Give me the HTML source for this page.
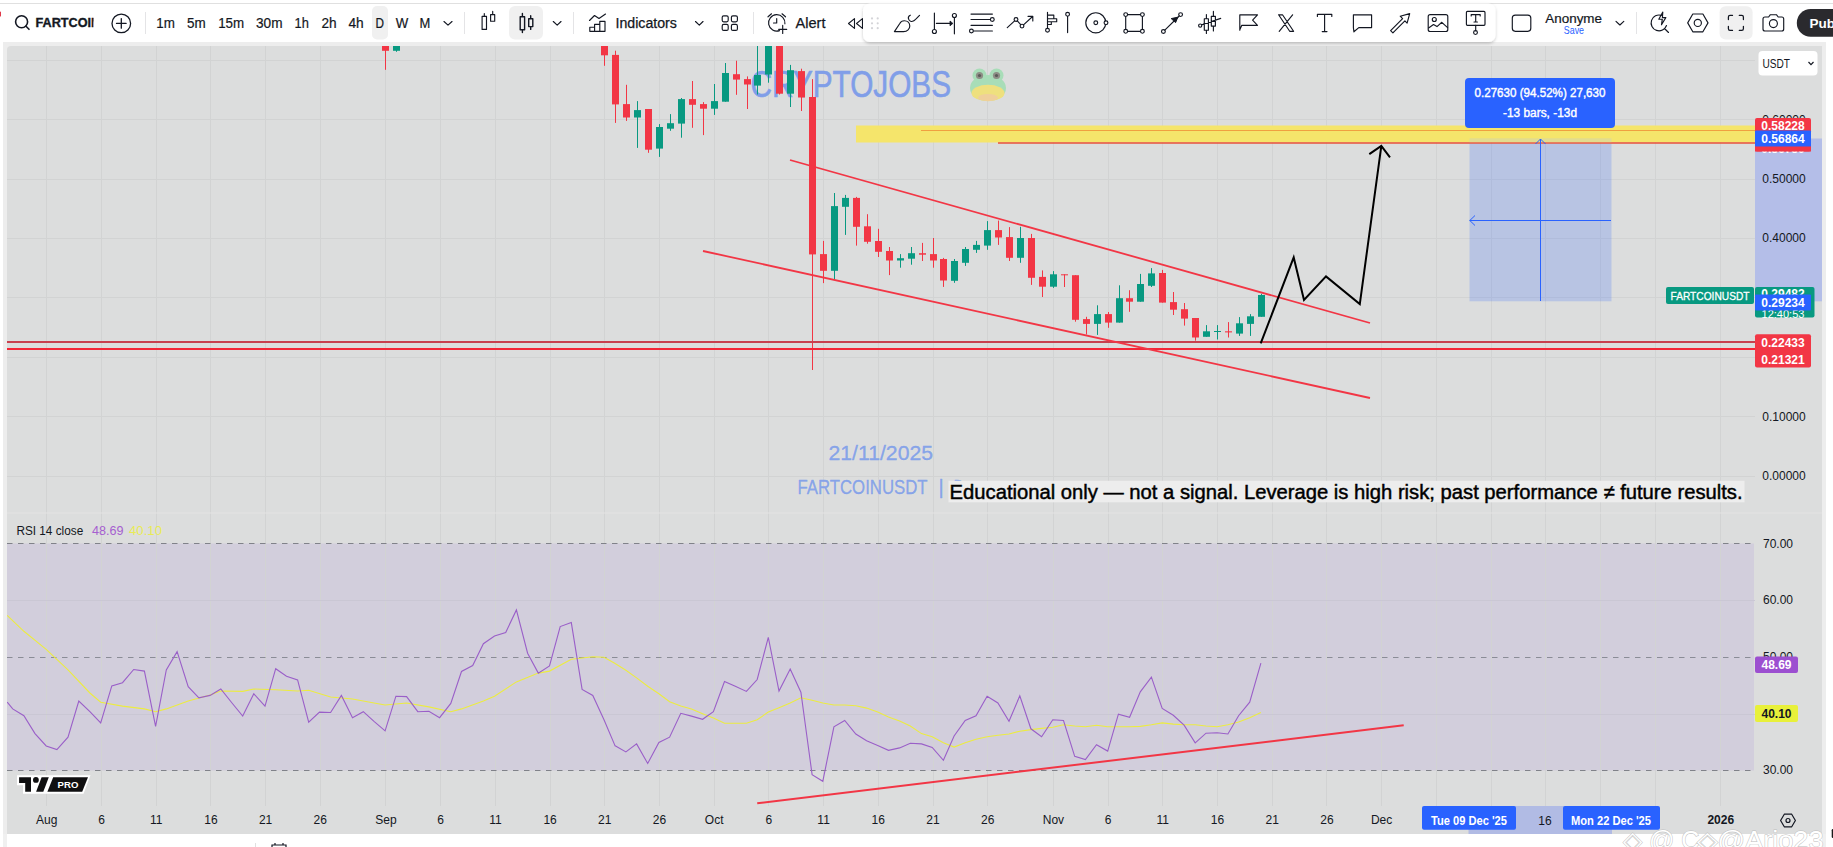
<!DOCTYPE html>
<html lang="en">
<head>
<meta charset="utf-8">
<title>FARTCOINUSDT chart</title>
<style>
html,body{margin:0;padding:0;background:#fff;}
body{width:1833px;height:847px;overflow:hidden;position:relative;font-family:"Liberation Sans",Arial,sans-serif;}
svg{position:absolute;left:0;top:0;display:block;}
svg text{font-family:"Liberation Sans",Arial,sans-serif;}
.ic{fill:none;stroke:#131722;stroke-width:1.15;stroke-linecap:round;stroke-linejoin:round;}
</style>
</head>
<body>
<svg width="1833" height="847" viewBox="0 0 1833 847">
<defs>
<clipPath id="chartclip"><path d="M7 50a4 4 0 0 1 4-4H1822V834H7Z"/></clipPath>
<clipPath id="symclip"><rect x="30" y="10" width="63.5" height="28"/></clipPath>
<filter id="sh" x="-5%" y="-30%" width="110%" height="180%"><feDropShadow dx="0" dy="1.5" stdDeviation="1.8" flood-color="#000" flood-opacity="0.22"/></filter>
</defs>

<!-- page frame -->
<rect x="0" y="3" width="1833" height="1" fill="#E0E0E0"/>
<rect x="3" y="42" width="1823" height="792" fill="#EDEDED"/>
<rect x="3" y="834" width="4" height="13" fill="#F0F0F0"/><rect x="1822" y="834" width="4" height="13" fill="#F0F0F0"/>
<rect x="1831.7" y="829" width="3" height="9" rx="1.2" fill="#1a1a1a"/>
<rect x="0" y="42" width="3" height="805" fill="#fff"/>
<path d="M7 50a4 4 0 0 1 4-4H1822V834H7Z" fill="#DCDDDD"/>

<g clip-path="url(#chartclip)">
<!-- RSI band -->
<rect x="7" y="543.5" width="1747" height="227" fill="#D2CEDC"/>
<!-- grid -->
<line x1="46.5" y1="46" x2="46.5" y2="806" stroke="#D2D3D3" stroke-width="1"/>
<line x1="101.5" y1="46" x2="101.5" y2="806" stroke="#D2D3D3" stroke-width="1"/>
<line x1="156.5" y1="46" x2="156.5" y2="806" stroke="#D2D3D3" stroke-width="1"/>
<line x1="210.5" y1="46" x2="210.5" y2="806" stroke="#D2D3D3" stroke-width="1"/>
<line x1="265.5" y1="46" x2="265.5" y2="806" stroke="#D2D3D3" stroke-width="1"/>
<line x1="320.5" y1="46" x2="320.5" y2="806" stroke="#D2D3D3" stroke-width="1"/>
<line x1="385.5" y1="46" x2="385.5" y2="806" stroke="#D2D3D3" stroke-width="1"/>
<line x1="440.5" y1="46" x2="440.5" y2="806" stroke="#D2D3D3" stroke-width="1"/>
<line x1="495.5" y1="46" x2="495.5" y2="806" stroke="#D2D3D3" stroke-width="1"/>
<line x1="550.5" y1="46" x2="550.5" y2="806" stroke="#D2D3D3" stroke-width="1"/>
<line x1="604.5" y1="46" x2="604.5" y2="806" stroke="#D2D3D3" stroke-width="1"/>
<line x1="659.5" y1="46" x2="659.5" y2="806" stroke="#D2D3D3" stroke-width="1"/>
<line x1="714.5" y1="46" x2="714.5" y2="806" stroke="#D2D3D3" stroke-width="1"/>
<line x1="768.5" y1="46" x2="768.5" y2="806" stroke="#D2D3D3" stroke-width="1"/>
<line x1="823.5" y1="46" x2="823.5" y2="806" stroke="#D2D3D3" stroke-width="1"/>
<line x1="878.5" y1="46" x2="878.5" y2="806" stroke="#D2D3D3" stroke-width="1"/>
<line x1="933.5" y1="46" x2="933.5" y2="806" stroke="#D2D3D3" stroke-width="1"/>
<line x1="987.5" y1="46" x2="987.5" y2="806" stroke="#D2D3D3" stroke-width="1"/>
<line x1="1053.5" y1="46" x2="1053.5" y2="806" stroke="#D2D3D3" stroke-width="1"/>
<line x1="1108.5" y1="46" x2="1108.5" y2="806" stroke="#D2D3D3" stroke-width="1"/>
<line x1="1162.5" y1="46" x2="1162.5" y2="806" stroke="#D2D3D3" stroke-width="1"/>
<line x1="1217.5" y1="46" x2="1217.5" y2="806" stroke="#D2D3D3" stroke-width="1"/>
<line x1="1272.5" y1="46" x2="1272.5" y2="806" stroke="#D2D3D3" stroke-width="1"/>
<line x1="1326.5" y1="46" x2="1326.5" y2="806" stroke="#D2D3D3" stroke-width="1"/>
<line x1="1381.5" y1="46" x2="1381.5" y2="806" stroke="#D2D3D3" stroke-width="1"/>
<line x1="1436.5" y1="46" x2="1436.5" y2="806" stroke="#D2D3D3" stroke-width="1"/>
<line x1="1491.5" y1="46" x2="1491.5" y2="806" stroke="#D2D3D3" stroke-width="1"/>
<line x1="1545.5" y1="46" x2="1545.5" y2="806" stroke="#D2D3D3" stroke-width="1"/>
<line x1="1600.5" y1="46" x2="1600.5" y2="806" stroke="#D2D3D3" stroke-width="1"/>
<line x1="1655.5" y1="46" x2="1655.5" y2="806" stroke="#D2D3D3" stroke-width="1"/>
<line x1="1720.5" y1="46" x2="1720.5" y2="806" stroke="#D2D3D3" stroke-width="1"/>
<line x1="7" y1="60.5" x2="1755" y2="60.5" stroke="#D2D3D3" stroke-width="1"/>
<line x1="7" y1="119.5" x2="1755" y2="119.5" stroke="#D2D3D3" stroke-width="1"/>
<line x1="7" y1="179.5" x2="1755" y2="179.5" stroke="#D2D3D3" stroke-width="1"/>
<line x1="7" y1="238.5" x2="1755" y2="238.5" stroke="#D2D3D3" stroke-width="1"/>
<line x1="7" y1="297.5" x2="1755" y2="297.5" stroke="#D2D3D3" stroke-width="1"/>
<line x1="7" y1="357.5" x2="1755" y2="357.5" stroke="#D2D3D3" stroke-width="1"/>
<line x1="7" y1="416.5" x2="1755" y2="416.5" stroke="#D2D3D3" stroke-width="1"/>
<line x1="7" y1="476.5" x2="1755" y2="476.5" stroke="#D2D3D3" stroke-width="1"/>
<line x1="7" y1="600.5" x2="1755" y2="600.5" stroke="#CAC7D4" stroke-width="1"/>
<line x1="7" y1="714.5" x2="1755" y2="714.5" stroke="#CAC7D4" stroke-width="1"/>
<!-- pane separator -->
<rect x="7" y="512.5" width="1815" height="1" fill="#E3E3E3"/>

<!-- yellow zone -->
<rect x="856" y="125.5" width="899" height="17" fill="#F5E56B"/>
<line x1="921" y1="130.5" x2="1755" y2="130.5" stroke="#F0A040" stroke-width="1"/>
<line x1="998" y1="143" x2="1755" y2="143" stroke="#E8503A" stroke-width="1.6"/>

<!-- watermark texts -->
<text x="750.5" y="97.4" font-size="36" fill="#809EE8" stroke="#809EE8" stroke-width="0.6" textLength="200.5" lengthAdjust="spacingAndGlyphs">CRYPTOJOBS</text>
<g id="frog">
<ellipse cx="988" cy="88" rx="18" ry="13" fill="#A8DDB8"/>
<circle cx="979.5" cy="75.5" r="7" fill="#A8DDB8"/><circle cx="996.5" cy="75.5" r="7" fill="#A8DDB8"/>
<circle cx="979.5" cy="75.5" r="3.6" fill="#8E8E86"/><circle cx="996.5" cy="75.5" r="3.6" fill="#8E8E86"/>
<circle cx="979.5" cy="75.5" r="1.6" fill="#5A5A58"/><circle cx="996.5" cy="75.5" r="1.6" fill="#5A5A58"/>
<ellipse cx="988" cy="93" rx="16.5" ry="8.3" fill="#EEE07E"/>
<ellipse cx="988" cy="97.5" rx="10" ry="3.6" fill="#F0C8A8" fill-opacity="0.7"/>
</g>
<!-- candles -->
<rect x="385" y="46.0" width="1" height="23.8" fill="#F23645"/>
<rect x="382" y="46.0" width="7" height="4.8" fill="#F23645"/>
<rect x="396" y="46.0" width="1" height="5.8" fill="#089981"/>
<rect x="393" y="46.0" width="7" height="4.8" fill="#089981"/>
<rect x="604" y="46.0" width="1" height="19.8" fill="#F23645"/>
<rect x="601" y="46.0" width="7" height="9.3" fill="#F23645"/>
<rect x="615" y="50.7" width="1" height="72.2" fill="#F23645"/>
<rect x="612" y="54.9" width="7" height="49.5" fill="#F23645"/>
<rect x="626" y="84.8" width="1" height="36.1" fill="#F23645"/>
<rect x="623" y="104.1" width="7" height="13.4" fill="#F23645"/>
<rect x="637" y="101.1" width="1" height="46.8" fill="#089981"/>
<rect x="634" y="110.1" width="7" height="7.4" fill="#089981"/>
<rect x="648" y="109.0" width="1" height="43.8" fill="#F23645"/>
<rect x="645" y="109.0" width="7" height="40.7" fill="#F23645"/>
<rect x="659" y="124.1" width="1" height="32.8" fill="#089981"/>
<rect x="656" y="127.0" width="7" height="21.6" fill="#089981"/>
<rect x="670" y="114.1" width="1" height="16.7" fill="#089981"/>
<rect x="667" y="123.2" width="7" height="5.5" fill="#089981"/>
<rect x="681" y="98.0" width="1" height="39.7" fill="#089981"/>
<rect x="678" y="99.1" width="7" height="24.5" fill="#089981"/>
<rect x="692" y="81.0" width="1" height="46.8" fill="#F23645"/>
<rect x="689" y="99.1" width="7" height="5.7" fill="#F23645"/>
<rect x="703" y="102.1" width="1" height="33.0" fill="#F23645"/>
<rect x="700" y="104.1" width="7" height="4.6" fill="#F23645"/>
<rect x="714" y="84.0" width="1" height="30.9" fill="#089981"/>
<rect x="711" y="101.1" width="7" height="7.6" fill="#089981"/>
<rect x="725" y="63.0" width="1" height="38.7" fill="#089981"/>
<rect x="722" y="73.0" width="7" height="28.7" fill="#089981"/>
<rect x="736" y="60.7" width="1" height="34.1" fill="#F23645"/>
<rect x="733" y="74.2" width="7" height="5.4" fill="#F23645"/>
<rect x="747" y="76.4" width="1" height="32.6" fill="#F23645"/>
<rect x="744" y="79.1" width="7" height="5.4" fill="#F23645"/>
<rect x="757" y="46.0" width="1" height="48.5" fill="#089981"/>
<rect x="754" y="75.0" width="7" height="10.6" fill="#089981"/>
<rect x="768" y="46.0" width="1" height="36.7" fill="#089981"/>
<rect x="765" y="46.0" width="7" height="28.5" fill="#089981"/>
<rect x="779" y="46.0" width="1" height="48.5" fill="#F23645"/>
<rect x="776" y="46.0" width="7" height="47.7" fill="#F23645"/>
<rect x="790" y="64.9" width="1" height="42.1" fill="#089981"/>
<rect x="787" y="70.2" width="7" height="23.5" fill="#089981"/>
<rect x="801" y="68.7" width="1" height="42.3" fill="#F23645"/>
<rect x="798" y="71.1" width="7" height="26.4" fill="#F23645"/>
<rect x="812" y="79.1" width="1" height="290.9" fill="#F23645"/>
<rect x="809" y="97.0" width="7" height="157.4" fill="#F23645"/>
<rect x="823" y="240.9" width="1" height="42.2" fill="#F23645"/>
<rect x="820" y="254.1" width="7" height="16.7" fill="#F23645"/>
<rect x="834" y="193.0" width="1" height="86.7" fill="#089981"/>
<rect x="831" y="206.1" width="7" height="64.7" fill="#089981"/>
<rect x="845" y="194.9" width="1" height="40.0" fill="#089981"/>
<rect x="842" y="197.9" width="7" height="8.9" fill="#089981"/>
<rect x="856" y="196.9" width="1" height="48.7" fill="#F23645"/>
<rect x="853" y="197.9" width="7" height="28.9" fill="#F23645"/>
<rect x="867" y="214.2" width="1" height="29.5" fill="#F23645"/>
<rect x="864" y="226.3" width="7" height="15.5" fill="#F23645"/>
<rect x="878" y="228.8" width="1" height="28.2" fill="#F23645"/>
<rect x="875" y="241.0" width="7" height="10.8" fill="#F23645"/>
<rect x="889" y="247.0" width="1" height="28.1" fill="#F23645"/>
<rect x="886" y="251.0" width="7" height="9.5" fill="#F23645"/>
<rect x="900" y="254.1" width="1" height="13.6" fill="#089981"/>
<rect x="897" y="258.2" width="7" height="2.3" fill="#089981"/>
<rect x="911" y="247.0" width="1" height="17.7" fill="#089981"/>
<rect x="908" y="253.2" width="7" height="5.5" fill="#089981"/>
<rect x="922" y="242.9" width="1" height="18.1" fill="#F23645"/>
<rect x="919" y="253.2" width="7" height="1.5" fill="#F23645"/>
<rect x="933" y="238.0" width="1" height="29.7" fill="#F23645"/>
<rect x="930" y="254.1" width="7" height="6.4" fill="#F23645"/>
<rect x="943" y="257.9" width="1" height="29.0" fill="#F23645"/>
<rect x="940" y="259.0" width="7" height="21.5" fill="#F23645"/>
<rect x="954" y="259.0" width="1" height="23.8" fill="#089981"/>
<rect x="951" y="261.0" width="7" height="19.8" fill="#089981"/>
<rect x="965" y="247.0" width="1" height="18.9" fill="#089981"/>
<rect x="962" y="249.0" width="7" height="13.8" fill="#089981"/>
<rect x="976" y="240.9" width="1" height="12.0" fill="#089981"/>
<rect x="973" y="244.9" width="7" height="4.9" fill="#089981"/>
<rect x="987" y="221.1" width="1" height="28.7" fill="#089981"/>
<rect x="984" y="230.1" width="7" height="15.5" fill="#089981"/>
<rect x="998" y="220.6" width="1" height="24.3" fill="#F23645"/>
<rect x="995" y="230.1" width="7" height="7.4" fill="#F23645"/>
<rect x="1009" y="227.1" width="1" height="33.9" fill="#F23645"/>
<rect x="1006" y="237.1" width="7" height="20.7" fill="#F23645"/>
<rect x="1020" y="226.8" width="1" height="36.0" fill="#089981"/>
<rect x="1017" y="238.0" width="7" height="19.8" fill="#089981"/>
<rect x="1031" y="233.9" width="1" height="51.0" fill="#F23645"/>
<rect x="1028" y="238.0" width="7" height="39.8" fill="#F23645"/>
<rect x="1042" y="270.4" width="1" height="26.6" fill="#F23645"/>
<rect x="1039" y="276.9" width="7" height="9.8" fill="#F23645"/>
<rect x="1053" y="271.1" width="1" height="16.8" fill="#089981"/>
<rect x="1050" y="274.3" width="7" height="12.4" fill="#089981"/>
<rect x="1064" y="274.3" width="1" height="12.7" fill="#F23645"/>
<rect x="1061" y="274.3" width="7" height="1.0" fill="#F23645"/>
<rect x="1075" y="275.2" width="1" height="46.5" fill="#F23645"/>
<rect x="1072" y="275.2" width="7" height="44.6" fill="#F23645"/>
<rect x="1086" y="316.8" width="1" height="17.7" fill="#F23645"/>
<rect x="1083" y="319.1" width="7" height="4.8" fill="#F23645"/>
<rect x="1097" y="305.3" width="1" height="29.6" fill="#089981"/>
<rect x="1094" y="314.1" width="7" height="9.8" fill="#089981"/>
<rect x="1108" y="312.0" width="1" height="15.8" fill="#F23645"/>
<rect x="1105" y="314.1" width="7" height="8.5" fill="#F23645"/>
<rect x="1119" y="285.3" width="1" height="37.3" fill="#089981"/>
<rect x="1116" y="298.2" width="7" height="24.4" fill="#089981"/>
<rect x="1129" y="290.2" width="1" height="21.6" fill="#F23645"/>
<rect x="1126" y="298.2" width="7" height="3.5" fill="#F23645"/>
<rect x="1140" y="273.9" width="1" height="27.8" fill="#089981"/>
<rect x="1137" y="284.0" width="7" height="17.7" fill="#089981"/>
<rect x="1151" y="268.1" width="1" height="18.9" fill="#089981"/>
<rect x="1148" y="273.4" width="7" height="12.4" fill="#089981"/>
<rect x="1162" y="269.9" width="1" height="32.7" fill="#F23645"/>
<rect x="1159" y="273.0" width="7" height="29.6" fill="#F23645"/>
<rect x="1173" y="292.0" width="1" height="23.0" fill="#F23645"/>
<rect x="1170" y="302.1" width="7" height="7.6" fill="#F23645"/>
<rect x="1184" y="303.0" width="1" height="22.6" fill="#F23645"/>
<rect x="1181" y="309.2" width="7" height="9.4" fill="#F23645"/>
<rect x="1195" y="318.0" width="1" height="22.7" fill="#F23645"/>
<rect x="1192" y="318.0" width="7" height="19.5" fill="#F23645"/>
<rect x="1206" y="325.1" width="1" height="11.7" fill="#089981"/>
<rect x="1203" y="331.3" width="7" height="5.5" fill="#089981"/>
<rect x="1217" y="325.1" width="1" height="14.4" fill="#089981"/>
<rect x="1214" y="331.0" width="7" height="1.0" fill="#089981"/>
<rect x="1228" y="322.1" width="1" height="15.4" fill="#F23645"/>
<rect x="1225" y="331.3" width="7" height="1.1" fill="#F23645"/>
<rect x="1239" y="317.1" width="1" height="18.8" fill="#089981"/>
<rect x="1236" y="323.3" width="7" height="10.3" fill="#089981"/>
<rect x="1250" y="314.1" width="1" height="21.8" fill="#089981"/>
<rect x="1247" y="316.3" width="7" height="7.6" fill="#089981"/>
<rect x="1261" y="293.8" width="1" height="23.0" fill="#089981"/>
<rect x="1258" y="295.0" width="7" height="21.8" fill="#089981"/>

<!-- horizontal support lines -->
<rect x="7" y="341" width="1748" height="2" fill="#C8404E"/>
<rect x="7" y="348" width="1748" height="2" fill="#F42536"/>
<!-- channel lines -->
<line x1="790" y1="160" x2="1370" y2="323" stroke="#F23645" stroke-width="1.8"/>
<line x1="703" y1="251" x2="1370" y2="398" stroke="#F23645" stroke-width="1.8"/>

<!-- long position / measure box -->
<rect x="1469.5" y="143.8" width="142" height="157.5" fill="#2962FF" fill-opacity="0.2"/>
<rect x="1469.5" y="138.3" width="142" height="3.8" fill="#E2DC90"/>
<line x1="1540.5" y1="139" x2="1540.5" y2="301" stroke="#2962FF" stroke-width="1"/>
<path d="M1535.5 144L1540.5 139L1545.5 144" fill="none" stroke="#2962FF" stroke-width="1"/>
<line x1="1469.5" y1="220.5" x2="1611" y2="220.5" stroke="#2962FF" stroke-width="1"/>
<path d="M1475 215.5L1469.8 220.5L1475 225.5" fill="none" stroke="#2962FF" stroke-width="1"/>

<!-- black projection arrow -->
<path d="M1260.7 343.4L1293.7 257.4L1304 300L1326 276.4L1359.8 304.1L1381.3 146.2" fill="none" stroke="#000" stroke-width="2" stroke-linejoin="miter"/>
<path d="M1369.3 154.1L1381.3 145.9L1390 157.4" fill="none" stroke="#000" stroke-width="2"/>

<text x="828.5" y="460" font-size="20" fill="#7E9EEA" fill-opacity="0.9" stroke="#7E9EEA" stroke-opacity="0.9" stroke-width="0.35" textLength="104.5" lengthAdjust="spacingAndGlyphs">21/11/2025</text>
<text x="797.5" y="493.8" font-size="20" fill="#7E9EEA" fill-opacity="0.9" stroke="#7E9EEA" stroke-opacity="0.9" stroke-width="0.35" textLength="130" lengthAdjust="spacingAndGlyphs">FARTCOINUSDT</text>
<text x="938.5" y="493.8" font-size="20" fill="#7E9EEA" fill-opacity="0.9" stroke="#7E9EEA" stroke-opacity="0.9" stroke-width="0.35">|</text>
<text x="953.5" y="493.8" font-size="20" fill="#7E9EEA" fill-opacity="0.9" stroke="#7E9EEA" stroke-opacity="0.9" stroke-width="0.35" textLength="10.5" lengthAdjust="spacingAndGlyphs">D</text>
<rect x="948.5" y="480.8" width="796" height="21.5" fill="#EDEDED"/>
<text x="949.6" y="499.2" font-size="20" fill="#000" stroke="#000" stroke-width="0.45" textLength="793" lengthAdjust="spacingAndGlyphs">Educational only — not a signal. Leverage is high risk; past performance ≠ future results.</text>

<!-- RSI dashed levels -->
<line x1="7" y1="543.5" x2="1754" y2="543.5" stroke="#808289" stroke-width="1" stroke-dasharray="5.5 5.5"/>
<line x1="7" y1="657.5" x2="1754" y2="657.5" stroke="#8A8C96" stroke-width="1" stroke-dasharray="5.5 5.5"/>
<line x1="7" y1="770.5" x2="1754" y2="770.5" stroke="#808289" stroke-width="1" stroke-dasharray="5.5 5.5"/>
<!-- RSI lines -->
<polyline points="7.2,615.4 23.9,631.3 46.2,649.3 68.0,669.9 89.9,693.0 100.7,702.2 122.5,706.1 144.4,708.9 155.6,711.7 166.3,708.9 188.2,701.0 210.1,695.0 220.8,691.0 242.7,691.4 253.8,689.0 275.7,689.8 297.6,691.0 308.7,690.2 330.6,697.0 352.5,699.0 374.0,703.0 385.1,705.0 406.6,703.0 428.9,706.9 450.8,711.7 461.5,708.9 483.4,701.0 494.5,696.2 516.4,681.9 538.3,673.1 549.5,671.1 571.3,659.2 592.8,656.8 604.0,657.2 614.7,663.2 625.9,670.3 636.6,677.9 647.7,686.3 658.9,693.8 669.6,701.8 680.8,706.1 691.5,708.9 702.6,713.7 713.4,718.1 724.5,723.3 735.3,723.3 746.4,723.3 757.2,719.7 768.3,712.1 779.0,707.7 790.2,703.0 800.9,697.8 812.1,700.2 822.8,703.0 833.9,705.0 844.7,705.0 855.8,705.8 866.6,708.1 877.7,712.1 888.5,716.9 899.6,720.9 910.3,726.0 921.5,733.6 932.2,736.8 943.4,742.8 954.1,747.1 965.2,742.8 976.0,739.2 987.1,736.8 997.9,735.2 1009.0,734.0 1019.8,731.2 1030.9,729.6 1041.6,728.4 1052.8,727.2 1063.5,724.8 1074.7,726.0 1085.4,726.8 1096.5,725.2 1107.7,726.8 1118.4,726.8 1129.6,726.8 1140.3,726.4 1151.4,724.8 1162.2,722.9 1173.3,724.1 1184.1,724.8 1195.2,724.8 1206.0,726.0 1217.1,726.8 1227.9,724.8 1238.6,722.1 1249.7,717.7 1260.9,712.5" fill="none" stroke="#ECEC40" stroke-width="1.1"/>
<polyline points="7.2,702.2 12.7,708.9 23.9,715.7 35.0,733.6 46.2,745.9 56.9,749.5 68.0,737.2 78.8,701.0 89.9,711.7 100.7,722.9 111.8,685.9 122.5,682.7 133.7,669.5 144.4,671.1 155.6,726.4 166.3,669.9 177.1,651.6 188.2,686.7 198.9,697.8 210.1,695.4 220.8,689.0 232.0,703.0 242.7,716.1 253.8,693.8 265.0,706.1 275.7,668.7 286.5,676.3 297.6,679.9 308.7,722.1 319.5,712.1 330.6,712.5 341.4,695.4 352.5,717.7 363.3,711.7 374.0,721.3 385.1,730.8 395.9,696.2 406.6,696.6 417.8,711.7 428.9,711.3 439.6,717.7 450.8,703.4 461.5,671.5 472.7,665.6 483.4,643.7 494.5,636.1 505.7,632.5 516.4,609.9 527.6,653.2 538.3,673.1 549.5,666.0 560.2,626.6 571.3,622.6 582.1,689.4 592.8,695.4 604.0,719.7 615.1,745.9 614.7,745.5 625.9,751.9 636.6,743.9 647.7,763.4 658.9,742.4 669.6,737.2 680.8,713.3 691.5,716.1 702.6,719.3 713.4,711.7 724.5,681.5 735.3,686.3 746.4,691.4 757.2,679.5 768.3,637.3 779.0,691.0 790.2,669.1 800.9,692.2 812.1,774.6 822.8,781.3 833.9,726.8 844.7,720.5 855.8,734.0 866.6,740.8 877.7,745.5 888.5,750.3 899.6,747.9 910.3,743.2 921.5,743.9 932.2,747.5 943.4,760.3 954.1,736.0 965.2,720.5 976.0,715.7 987.1,696.2 997.9,703.0 1009.0,721.3 1019.8,695.8 1030.9,728.8 1041.6,736.8 1052.8,719.7 1063.5,720.5 1074.7,756.3 1085.4,759.5 1096.5,744.7 1107.7,751.1 1118.4,714.1 1129.6,717.3 1140.3,691.8 1151.4,677.1 1162.2,708.5 1173.3,715.3 1184.1,725.2 1195.2,742.8 1206.0,733.2 1217.1,732.8 1227.9,734.0 1238.6,715.7 1249.7,702.2 1260.9,663.2" fill="none" stroke="#9A5FC8" stroke-width="1.1"/>
<line x1="757.2" y1="803.3" x2="1403.7" y2="725.3" stroke="#F23645" stroke-width="2"/>

<!-- RSI legend -->
<text x="16.4" y="534.8" font-size="12" fill="#131722" textLength="66.8" lengthAdjust="spacingAndGlyphs">RSI 14 close</text>
<text x="92" y="534.8" font-size="12" fill="#A65FD0" textLength="31.5" lengthAdjust="spacingAndGlyphs">48.69</text>
<text x="129" y="534.8" font-size="12" fill="#E9EB55" textLength="33" lengthAdjust="spacingAndGlyphs">40.10</text>

<!-- TV PRO logo -->
<g>
<path d="M17 775.3H90.5L83.5 793.7H23V785.2H17Z" fill="#fff"/>
<path d="M19.1 777.3H31V791.7H25.2V783.1H19.1Z" fill="#0F0F10"/>
<circle cx="35.9" cy="779.9" r="2.9" fill="#0F0F10"/>
<path d="M41.6 777.3H48.8L43.3 791.7H36.1Z" fill="#0F0F10"/>
<path d="M53.2 777.3H88L82.2 791.7H47.4Z" fill="#0F0F10"/>
<text x="57.6" y="787.9" font-size="9.2" font-weight="700" fill="#fff" textLength="20.8" lengthAdjust="spacingAndGlyphs">PRO</text>
</g>

<!-- price axis highlight for measure -->
<rect x="1755" y="138.5" width="67" height="162.8" fill="#B4BEE8"/>
<!-- price axis labels -->
<text x="1784" y="123.5" text-anchor="middle" font-size="12" fill="#131722">0.60000</text>
<text x="1784" y="182.9" text-anchor="middle" font-size="12" fill="#131722">0.50000</text>
<text x="1784" y="242.3" text-anchor="middle" font-size="12" fill="#131722">0.40000</text>
<text x="1784" y="301.7" text-anchor="middle" font-size="12" fill="#131722">0.30000</text>
<text x="1784" y="420.5" text-anchor="middle" font-size="12" fill="#131722">0.10000</text>
<text x="1784" y="479.9" text-anchor="middle" font-size="12" fill="#131722">0.00000</text>
<text x="1763" y="547.7" font-size="12" fill="#131722">70.00</text>
<text x="1763" y="603.8" font-size="12" fill="#131722">60.00</text>
<text x="1763" y="661.2" font-size="12" fill="#131722">50.00</text>
<text x="1763" y="774.0" font-size="12" fill="#131722">30.00</text>

<!-- price tags -->
<rect x="1755" y="118" width="56" height="33.5" rx="2" fill="#F23645"/>
<text x="1783" y="130.3" text-anchor="middle" font-size="12" font-weight="700" fill="#fff">0.58228</text>
<text x="1783" y="152.5" text-anchor="middle" font-size="12" font-weight="700" fill="#fff">0.56750</text>
<rect x="1755" y="130.5" width="56" height="16.5" rx="1" fill="#2962FF"/>
<text x="1783" y="143" text-anchor="middle" font-size="12" font-weight="700" fill="#fff">0.56864</text>
<rect x="1755" y="146.5" width="56" height="5" fill="#F23645"/>

<rect x="1666" y="287" width="88" height="17" rx="2" fill="#089981"/>
<text x="1710" y="300" text-anchor="middle" font-size="11.5" fill="#fff" stroke="#fff" stroke-width="0.3" textLength="79" lengthAdjust="spacingAndGlyphs">FARTCOINUSDT</text>
<rect x="1755" y="287" width="59.5" height="30.5" rx="2" fill="#089981"/>
<text x="1783" y="298" text-anchor="middle" font-size="12" font-weight="700" fill="#fff">0.29482</text>
<text x="1783" y="317.5" text-anchor="middle" font-size="11" fill="#fff">12:40:53</text>
<rect x="1755" y="294.5" width="56" height="16" rx="1" fill="#2962FF"/>
<text x="1783" y="306.8" text-anchor="middle" font-size="12" font-weight="700" fill="#fff">0.29234</text>

<rect x="1755" y="334.3" width="56" height="33.3" rx="2" fill="#F23645"/>
<text x="1783" y="347" text-anchor="middle" font-size="12" font-weight="700" fill="#fff">0.22433</text>
<text x="1783" y="363.8" text-anchor="middle" font-size="12" font-weight="700" fill="#fff">0.21321</text>

<rect x="1755" y="656.5" width="43" height="16.5" rx="2" fill="#9C4FD0"/>
<text x="1776.5" y="669" text-anchor="middle" font-size="12" font-weight="700" fill="#fff">48.69</text>
<rect x="1755" y="705" width="43" height="17" rx="2" fill="#E8F03A"/>
<text x="1776.5" y="717.8" text-anchor="middle" font-size="12" font-weight="700" fill="#131722">40.10</text>

<!-- USDT dropdown -->
<rect x="1758.5" y="51" width="59" height="24.5" rx="4" fill="#fff"/>
<text x="1762.5" y="67.5" font-size="12" fill="#131722" textLength="27.5" lengthAdjust="spacingAndGlyphs">USDT</text>
<path d="M1808.5 62L1811 64.6L1813.5 62" fill="none" stroke="#131722" stroke-width="1.2"/>

<!-- measure tooltip -->
<rect x="1465" y="78" width="150" height="50" rx="4" fill="#2962FF"/>
<text x="1540" y="96.8" text-anchor="middle" font-size="12" fill="#fff" stroke="#fff" stroke-width="0.4" textLength="131" lengthAdjust="spacingAndGlyphs">0.27630 (94.52%) 27,630</text>
<text x="1540" y="117" text-anchor="middle" font-size="12" fill="#fff" stroke="#fff" stroke-width="0.4" textLength="74" lengthAdjust="spacingAndGlyphs">-13 bars, -13d</text>

<!-- time axis -->
<rect x="1468.5" y="806" width="143.5" height="28" fill="#B1BBE4"/>
<text x="46.8" y="823.8" text-anchor="middle" font-size="12" font-weight="400" fill="#131722">Aug</text>
<text x="101.5" y="823.8" text-anchor="middle" font-size="12" font-weight="400" fill="#131722">6</text>
<text x="156.2" y="823.8" text-anchor="middle" font-size="12" font-weight="400" fill="#131722">11</text>
<text x="210.9" y="823.8" text-anchor="middle" font-size="12" font-weight="400" fill="#131722">16</text>
<text x="265.6" y="823.8" text-anchor="middle" font-size="12" font-weight="400" fill="#131722">21</text>
<text x="320.3" y="823.8" text-anchor="middle" font-size="12" font-weight="400" fill="#131722">26</text>
<text x="385.9" y="823.8" text-anchor="middle" font-size="12" font-weight="400" fill="#131722">Sep</text>
<text x="440.6" y="823.8" text-anchor="middle" font-size="12" font-weight="400" fill="#131722">6</text>
<text x="495.4" y="823.8" text-anchor="middle" font-size="12" font-weight="400" fill="#131722">11</text>
<text x="550.1" y="823.8" text-anchor="middle" font-size="12" font-weight="400" fill="#131722">16</text>
<text x="604.8" y="823.8" text-anchor="middle" font-size="12" font-weight="400" fill="#131722">21</text>
<text x="659.5" y="823.8" text-anchor="middle" font-size="12" font-weight="400" fill="#131722">26</text>
<text x="714.2" y="823.8" text-anchor="middle" font-size="12" font-weight="400" fill="#131722">Oct</text>
<text x="768.9" y="823.8" text-anchor="middle" font-size="12" font-weight="400" fill="#131722">6</text>
<text x="823.6" y="823.8" text-anchor="middle" font-size="12" font-weight="400" fill="#131722">11</text>
<text x="878.3" y="823.8" text-anchor="middle" font-size="12" font-weight="400" fill="#131722">16</text>
<text x="933.0" y="823.8" text-anchor="middle" font-size="12" font-weight="400" fill="#131722">21</text>
<text x="987.7" y="823.8" text-anchor="middle" font-size="12" font-weight="400" fill="#131722">26</text>
<text x="1053.4" y="823.8" text-anchor="middle" font-size="12" font-weight="400" fill="#131722">Nov</text>
<text x="1108.1" y="823.8" text-anchor="middle" font-size="12" font-weight="400" fill="#131722">6</text>
<text x="1162.8" y="823.8" text-anchor="middle" font-size="12" font-weight="400" fill="#131722">11</text>
<text x="1217.5" y="823.8" text-anchor="middle" font-size="12" font-weight="400" fill="#131722">16</text>
<text x="1272.2" y="823.8" text-anchor="middle" font-size="12" font-weight="400" fill="#131722">21</text>
<text x="1326.9" y="823.8" text-anchor="middle" font-size="12" font-weight="400" fill="#131722">26</text>
<text x="1381.6" y="823.8" text-anchor="middle" font-size="12" font-weight="400" fill="#131722">Dec</text>
<text x="1720.8" y="823.8" text-anchor="middle" font-size="12" font-weight="700" fill="#131722">2026</text>
<text x="1545" y="824.5" text-anchor="middle" font-size="12" fill="#131722">16</text>
<rect x="1422" y="806" width="94" height="23.7" rx="2" fill="#2962FF"/>
<text x="1469" y="825" text-anchor="middle" font-size="12" font-weight="700" fill="#fff" textLength="76" lengthAdjust="spacingAndGlyphs">Tue 09 Dec '25</text>
<rect x="1563" y="806" width="97" height="23.7" rx="2" fill="#2962FF"/>
<text x="1611" y="825" text-anchor="middle" font-size="12" font-weight="700" fill="#fff" textLength="80" lengthAdjust="spacingAndGlyphs">Mon 22 Dec '25</text>
<!-- axis settings icon -->
<path d="M1784.3 814.2H1791.7L1795.4 820.5L1791.7 826.8H1784.3L1780.6 820.5Z" fill="none" stroke="#131722" stroke-width="1.2" stroke-linejoin="round"/>
<circle cx="1788" cy="820.5" r="2" fill="none" stroke="#131722" stroke-width="1.2"/>
</g>

<!-- below chart -->
<rect x="255" y="843" width="1" height="4" fill="#E0E0E0"/>
<path d="M272 847V845H286V847M275 843V845M283 843V845" fill="none" stroke="#131722" stroke-width="1.2"/>
<text x="1623" y="849" font-size="25" fill="#fff" stroke="#BDBDBD" stroke-width="0.9" paint-order="stroke">◈ @ C</text>
<text x="1697" y="849" font-size="25" fill="#fff" stroke="#BDBDBD" stroke-width="0.9" paint-order="stroke" textLength="126.5" lengthAdjust="spacingAndGlyphs">◈@Arjo23</text>

<!-- ================= TOOLBAR ================= -->
<g id="toolbar">
<rect x="0" y="11.5" width="1" height="5" rx="0.5" fill="#E0394A"/>
<!-- search -->
<circle cx="21.6" cy="21.8" r="6" class="ic" style="stroke-width:1.6"/>
<path d="M26 26.2L29 29.3" class="ic" style="stroke-width:1.6"/>
<g clip-path="url(#symclip)"><text x="35.5" y="27.4" font-size="12.6" font-weight="700" fill="#131722" stroke="#131722" stroke-width="0.35" textLength="73.8" lengthAdjust="spacingAndGlyphs">FARTCOINU</text></g>
<circle cx="121.3" cy="23.4" r="9.3" class="ic" style="stroke-width:1.3"/>
<path d="M116.5 23.4H126.1M121.3 18.6V28.2" class="ic" style="stroke-width:1.3"/>
<rect x="145" y="12" width="1" height="22" fill="#E4E4E6"/>
<!-- timeframes -->
<rect x="372" y="6" width="16" height="33.5" rx="5" fill="#F0F0F0"/>
<g font-size="14" fill="#131722" stroke="#131722" stroke-width="0.2">
<text x="156.3" y="28" textLength="18.6" lengthAdjust="spacingAndGlyphs">1m</text>
<text x="187" y="28" textLength="18.7" lengthAdjust="spacingAndGlyphs">5m</text>
<text x="218.2" y="28" textLength="26" lengthAdjust="spacingAndGlyphs">15m</text>
<text x="256" y="28" textLength="26.5" lengthAdjust="spacingAndGlyphs">30m</text>
<text x="294.6" y="28" textLength="14.3" lengthAdjust="spacingAndGlyphs">1h</text>
<text x="321.4" y="28" textLength="15.2" lengthAdjust="spacingAndGlyphs">2h</text>
<text x="348.4" y="28" textLength="15.3" lengthAdjust="spacingAndGlyphs">4h</text>
<text x="375.5" y="28" textLength="8.5" lengthAdjust="spacingAndGlyphs">D</text>
<text x="395.8" y="28" textLength="12.5" lengthAdjust="spacingAndGlyphs">W</text>
<text x="419.5" y="28" textLength="10.8" lengthAdjust="spacingAndGlyphs">M</text>
</g>
<path d="M444 21.5L448 25.2L452 21.5" class="ic"/>
<rect x="464" y="12" width="1" height="22" fill="#E4E4E6"/>
<!-- bar style icons -->
<path d="M482.1 16.3H486.5V29.4H482.1ZM484.3 13.5V16.3M490.6 14.6H494.7V21.2H490.6ZM492.7 11.4V14.6" class="ic"/>
<rect x="509" y="6" width="34" height="33.5" rx="6" fill="#F0F0F0"/>
<path d="M520.2 16.8H524.6V29.7H520.2ZM522.4 13.5V16.8M522.4 29.7V32.6M528.7 18.7H532.8V26.6H528.7ZM530.7 15.8V18.7M530.7 26.6V29.4" class="ic" style="stroke-width:1.4"/>
<path d="M553.3 21.5L557.2 25.2L561 21.5" class="ic"/>
<rect x="573" y="12" width="1" height="22" fill="#E4E4E6"/>
<!-- indicators -->
<path d="M589.5 20.5L594.5 15.5L599 18.5L605.5 14M589.8 31.3V27.2H594.6V31.3M594.6 27.2V24.4H599.8V31.3M599.8 24.4V21.4H605V31.3H589.8" class="ic"/>
<text x="615.5" y="28.2" font-size="14" fill="#131722" stroke="#131722" stroke-width="0.25" textLength="61.4" lengthAdjust="spacingAndGlyphs">Indicators</text>
<path d="M695.5 21.5L699.3 25.2L703 21.5" class="ic"/>
<g class="ic"><rect x="722.2" y="15.8" width="6" height="6" rx="1.5"/><rect x="731.4" y="15.8" width="6" height="6" rx="1.5"/><rect x="722.2" y="24.4" width="6" height="6" rx="1.5"/><rect x="731.4" y="24.4" width="6" height="6" rx="1.5"/></g>
<rect x="753" y="12" width="1" height="22" fill="#E4E4E6"/>
<!-- alert -->
<path d="M779.5 30.6A8.2 8.2 0 1 1 784.9 23.8M776.7 18.5V23H773.5M768 16.8L771.5 13.8M782 13.8L785.5 16.8M778.7 29.4H786.7M782.7 25.4V33.4" class="ic"/>
<text x="795.5" y="28.2" font-size="14" fill="#131722" stroke="#131722" stroke-width="0.25" textLength="30" lengthAdjust="spacingAndGlyphs">Alert</text>
<path d="M854.5 18.6V28.4L848.5 23.5ZM862.5 18.6V28.4L856.5 23.5Z" class="ic" style="stroke-width:1.1"/>
<rect x="1636" y="12" width="1" height="22" fill="#E4E4E6"/>

<!-- floating drawing toolbar -->
<rect x="863" y="3.5" width="632.5" height="38.5" rx="7" fill="#fff" filter="url(#sh)"/>
<g fill="#D4D4D8"><circle cx="872" cy="18.4" r="1.1"/><circle cx="877.7" cy="18.4" r="1.1"/><circle cx="872" cy="23.3" r="1.1"/><circle cx="877.7" cy="23.3" r="1.1"/><circle cx="872" cy="28.2" r="1.1"/><circle cx="877.7" cy="28.2" r="1.1"/></g>
<!-- brush -->
<path d="M894.4 31.6H903.6C907.4 31.6 909.8 28.8 909.8 26C909.8 23 907.5 20.7 904.3 20.7C902 20.7 900.6 21.8 899.8 23.5ZM910.3 15.2C908.5 16 908 17.6 908.6 19.1C909.5 21.4 911.6 22 913.3 21.1C914.6 20.4 916 19 919.5 15.3" class="ic"/>
<!-- measure -->
<path d="M934.4 13V29.3M936.4 23.4H950.4M954.4 17.7V33.8" class="ic"/><path d="M950 21L952.9 23.4L950 25.8Z" fill="#131722" stroke="#131722" stroke-width="0.8" stroke-linejoin="round"/>
<circle cx="934.4" cy="31.5" r="2" class="ic"/><circle cx="954.4" cy="15.5" r="2" class="ic"/>
<!-- lines -->
<path d="M971 14.1H992.4M971 19.5H990.2M971 25.3H992.4M973.4 31H992.4" class="ic"/>
<circle cx="992.3" cy="19.5" r="1.9" class="ic" fill="#fff" style="fill:#fff"/><circle cx="971.4" cy="31" r="1.9" class="ic" style="fill:#fff"/>
<!-- zigzag -->
<path d="M1007.3 27.7L1014.6 20.8M1017.3 20.9L1020.7 24.7M1023.5 24.8L1032.6 16.5M1028 16.3H1032.8V21" class="ic"/>
<circle cx="1016" cy="19.5" r="1.9" class="ic"/><circle cx="1022" cy="26.1" r="1.9" class="ic"/>
<!-- profile pin -->
<path d="M1047.5 12.2V28.3M1047.5 15.1H1053.8V18.7H1047.5M1053.8 18.7H1056.7V21.7H1047.5M1051.3 21.7V24.5H1047.5M1067.6 16.3V32.6" class="ic"/>
<circle cx="1047.5" cy="30.2" r="1.9" class="ic"/><circle cx="1067.6" cy="14.3" r="1.9" class="ic"/>
<!-- circle -->
<circle cx="1095.8" cy="22.8" r="10" class="ic"/><circle cx="1095.8" cy="22.8" r="1.9" class="ic"/><circle cx="1106" cy="22.8" r="1.9" class="ic" style="fill:#fff"/>
<!-- square -->
<rect x="1125.7" y="14.6" width="16.7" height="16.7" class="ic"/>
<g class="ic" style="fill:#fff"><circle cx="1125.7" cy="14.6" r="1.9"/><circle cx="1142.4" cy="14.6" r="1.9"/><circle cx="1125.7" cy="31.3" r="1.9"/><circle cx="1142.4" cy="31.3" r="1.9"/></g>
<!-- arrow -->
<path d="M1164.8 30.1L1179.2 16" class="ic"/>
<path d="M1177.8 17.2L1175.6 22.6L1171.2 18.6Z" fill="#131722" stroke="#131722" stroke-width="1" stroke-linejoin="round"/>
<circle cx="1163.4" cy="31.5" r="1.9" class="ic"/><circle cx="1180.6" cy="14.6" r="1.9" class="ic"/>
<!-- forecast candles -->
<path d="M1204.3 18.7H1208.4V30.2H1204.3ZM1206.4 14.6V18.7M1206.4 30.2V33.5M1211.3 16.3H1215.4V26.1H1211.3ZM1213.4 11.4V16.3M1213.4 26.1V31M1201.8 24.8L1220.7 18.4" class="ic"/>
<circle cx="1200.2" cy="25.6" r="1.6" class="ic"/>
<!-- flag -->
<path d="M1239.8 30.2V14.9H1257.5L1252.6 20.2L1257.5 25.3H1241.8L1239.8 29.8" class="ic"/>
<!-- X -->
<path d="M1278.6 14.8H1282.5L1293.6 31.3H1289.7ZM1292.6 14.8L1279.2 31.3" class="ic"/>
<!-- T -->
<path d="M1317.4 16.5V14.3H1331.8V16.5M1324.6 14.3V31.6M1322.2 31.6H1327" class="ic"/>
<!-- bubble -->
<path d="M1353.4 14.8H1371.6V27.6H1358.8L1353.9 31.8L1353.4 27.6Z" class="ic"/>
<!-- outline arrow -->
<path d="M1390.6 30.6L1402.6 18.6L1400.2 16.2L1409.7 13.6L1407.1 23.1L1404.9 20.9L1392.9 32.9Z" class="ic"/>
<!-- image -->
<rect x="1428.2" y="14.6" width="19.6" height="16.9" rx="2" class="ic"/>
<circle cx="1434.3" cy="19.5" r="2" class="ic"/>
<path d="M1428.6 28L1433.5 24.5L1437 26.6L1441.8 22.3L1447.6 27.6" class="ic"/>
<!-- T box -->
<rect x="1466.4" y="11.4" width="18.6" height="13.9" rx="1" class="ic"/>
<path d="M1471.2 16V14.6H1480.2V16M1475.7 14.6V22M1474 22H1477.4M1475.7 25.3V30.7" class="ic"/>
<circle cx="1475.5" cy="32.6" r="1.9" class="ic"/>

<!-- layout/save -->
<rect x="1512.3" y="15.1" width="18.5" height="16.2" rx="3" class="ic"/>
<text x="1545.3" y="23" font-size="13.4" fill="#131722" stroke="#131722" stroke-width="0.2" textLength="56.7" lengthAdjust="spacingAndGlyphs">Anonyme</text>
<text x="1563.8" y="33.9" font-size="10.5" fill="#2962FF" textLength="20.2" lengthAdjust="spacingAndGlyphs">Save</text>
<path d="M1616 21.3L1619.9 25L1623.8 21.3" class="ic"/>
<!-- quick search -->
<path d="M1661.5 15.4A7.9 7.9 0 1 0 1666.5 25.5M1664.5 28.5L1668.5 32.5M1662.8 12L1658.8 19.2H1662.3L1661.5 24.8L1665.8 17.6H1662.4Z" class="ic"/>
<!-- hex settings -->
<path d="M1692.8 14H1702.9L1708 22.9L1702.9 31.8H1692.8L1687.7 22.9Z" class="ic"/>
<circle cx="1697.8" cy="22.9" r="3.6" class="ic"/>
<!-- fullscreen -->
<rect x="1719.6" y="6.2" width="33" height="33.4" rx="6" fill="#F0F0F0"/>
<path d="M1728.4 19.5V17Q1728.4 15.4 1730 15.4H1732.5M1739.3 15.4H1741.8Q1743.4 15.4 1743.4 17V19.5M1743.4 26.3V28.8Q1743.4 30.4 1741.8 30.4H1739.3M1732.5 30.4H1730Q1728.4 30.4 1728.4 28.8V26.3" class="ic" style="stroke-width:1.25"/>
<!-- camera -->
<path d="M1765 17H1768.6L1770.4 14.7H1776.4L1778.2 17H1781.8Q1783.7 17 1783.7 19V29Q1783.7 31 1781.8 31H1765Q1763 31 1763 29V19Q1763 17 1765 17Z" class="ic"/>
<circle cx="1773.4" cy="23.6" r="4" class="ic"/>
<!-- publish -->
<rect x="1796.8" y="9" width="60" height="27.8" rx="13.9" fill="#2A2A2E"/>
<text x="1809.6" y="27.8" font-size="13.5" font-weight="700" fill="#fff">Pub</text>
</g>
</svg>
</body>
</html>
